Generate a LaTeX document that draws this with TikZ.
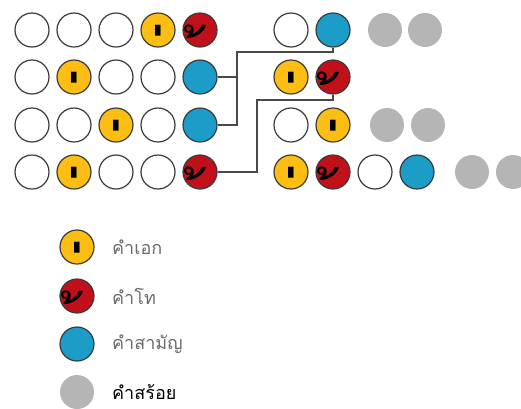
\documentclass[tikz,border=0pt]{standalone}
\usepackage{fontspec}
\newfontfamily\thaifont[Script=Thai]{Loma}
\definecolor{ekY}{HTML}{FDBE14}
\definecolor{thoR}{HTML}{C0111B}
\definecolor{samB}{HTML}{1B9DC7}
\definecolor{soiG}{HTML}{B5B5B5}
\definecolor{rimC}{HTML}{3A3A3A}
\definecolor{lineC}{HTML}{4A4A4A}
\definecolor{txtC}{HTML}{6A6A6A}
\newcommand{\markEk}{\makebox[12pt][l]{\hspace{16pt}\raisebox{-77pt}{\thaifont\fontsize{80}{80}\selectfont ่}}}
\newcommand{\markTho}{\makebox[12pt][l]{\hspace{10pt}\raisebox{-58pt}{\thaifont\fontsize{60}{60}\selectfont ้}}}
\begin{document}
\begin{tikzpicture}[x=1pt,y=-1pt,
  dot/.style={circle,minimum size=34pt,inner sep=0pt,line width=1.2pt,draw=rimC},
  wc/.style={dot,fill=white},
  yc/.style={dot,fill=ekY,text height=6pt,text depth=6pt},
  rc/.style={dot,fill=thoR,text height=6pt,text depth=6pt},
  bc/.style={dot,fill=samB},
  gc/.style={circle,minimum size=34pt,inner sep=0pt,fill=soiG},
  conn/.style={draw=lineC,line width=1.5pt},
  lab/.style={anchor=west,font=\thaifont\fontsize{18}{18}\selectfont,text=txtC,inner sep=0pt}]
\useasboundingbox (0,0) rectangle (521,408);
% left grid
\node[wc] (a1) at (32,30) {};
\node[wc] (a2) at (74,30) {};
\node[wc] (a3) at (116,30) {};
\node[yc] (a4) at (158,30) {\markEk};
\node[rc] (a5) at (200,30) {\markTho};
\node[wc] (b1) at (32,77) {};
\node[yc] (b2) at (74,77) {\markEk};
\node[wc] (b3) at (116,77) {};
\node[wc] (b4) at (158,77) {};
\node[bc] (b5) at (200,77) {};
\node[wc] (c1) at (32,125) {};
\node[wc] (c2) at (74,125) {};
\node[yc] (c3) at (116,125) {\markEk};
\node[wc] (c4) at (158,125) {};
\node[bc] (c5) at (200,125) {};
\node[wc] (d1) at (32,172) {};
\node[yc] (d2) at (74,172) {\markEk};
\node[wc] (d3) at (116,172) {};
\node[wc] (d4) at (158,172) {};
\node[rc] (d5) at (200,172) {\markTho};
% right side
\node[wc] (p1) at (291,30) {};
\node[bc] (p2) at (333,30) {};
\node[gc] (p3) at (385,30) {};
\node[gc] (p4) at (425,30) {};
\node[yc] (q1) at (291,77) {\markEk};
\node[rc] (q2) at (333,77) {\markTho};
\node[wc] (s1) at (291,125) {};
\node[yc] (s2) at (333,125) {\markEk};
\node[gc] (s3) at (387,125) {};
\node[gc] (s4) at (428,125) {};
\node[yc] (t1) at (291,172) {\markEk};
\node[rc] (t2) at (333,172) {\markTho};
\node[wc] (t3) at (375,172) {};
\node[bc] (t4) at (417,172) {};
\node[gc] (t5) at (472,172) {};
\node[gc] (t6) at (513,172) {};
% connectors
\coordinate (k1) at (237,52);
\coordinate (k2) at (257,100);
\draw[conn] (c5.east) -| (k1) -| (p2.south);
\draw[conn] (b5.east) -- (b5.east -| k1);
\draw[conn] (d5.east) -| (k2) -| (q2.south);
% legend
\node[yc] (ly) at (77,247) {\markEk};
\node[rc] (lr) at (77,296) {\markTho};
\node[bc] (lb) at (77,344) {};
\node[gc] (lg) at (77,392) {};
\node[lab] (ty) at (112,247) {คำเอก};
\node[lab] (tr) at (112,296) {คำโท};
\node[lab] (tb) at (112,344) {คำสามัญ};
\node[lab,text=black] (tg) at (112,392) {คำสร้อย};
\end{tikzpicture}
\end{document}
